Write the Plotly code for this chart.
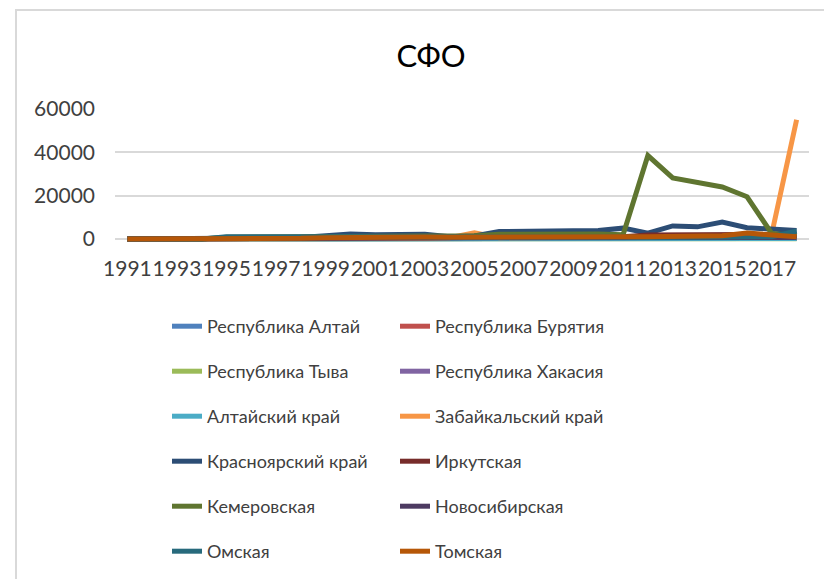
import plotly.graph_objects as go

years = [str(y) for y in range(1991, 2019)]
tick_years = [str(y) for y in range(1991, 2019, 2)]

names = ["Республика Алтай", "Республика Бурятия", "Республика Тыва", "Республика Хакасия",
         "Алтайский край", "Забайкальский край", "Красноярский край", "Иркутская",
         "Кемеровская", "Новосибирская", "Омская", "Томская"]
colors = ["#4F81BD", "#C0504D", "#9BBB59", "#8064A2", "#4BACC6", "#F79646",
          "#2C4D75", "#772C2A", "#5F7530", "#4D3B62", "#276A7C", "#B65708"]

#                 1991 ...                                                                                         2018
altai_rep     = [0, 0, 0, 0, 50, 60, 60, 80, 100, 120, 120, 130, 150, 150, 160, 180, 200, 200, 220, 220, 250, 250, 260, 280, 300, 300, 320, 300]
buryatia      = [0, 0, 0, 0, 100, 120, 150, 200, 250, 300, 300, 320, 350, 300, 350, 400, 400, 420, 450, 450, 500, 500, 520, 500, 550, 600, 500, 450]
tyva          = [0, 0, 0, 0, 20, 20, 30, 30, 40, 50, 50, 60, 60, 60, 70, 70, 80, 80, 90, 90, 100, 100, 100, 110, 120, 120, 110, 100]
khakassia     = [0, 0, 0, 0, 100, 120, 150, 180, 200, 250, 250, 260, 280, 250, 300, 320, 350, 350, 380, 380, 400, 400, 420, 400, 450, 450, 400, 380]
altai_krai    = [0, 0, 0, 0, 150, 200, 220, 250, 300, 350, 350, 380, 400, 350, 400, 450, 450, 480, 500, 500, 500, 450, 400, 350, 300, 300, 250, 200]
zabaikalsky   = [0, 0, 0, 0, 100, 150, 200, 250, 300, 300, 300, 320, 350, 600, 2800, 600, 700, 800, 800, 850, 900, 900, 950, 1000, 1000, 1100, 2500, 55000]
krasnoyarsk   = [0, 0, 0, 0, 300, 400, 500, 700, 1500, 2300, 1900, 1800, 2200, 1000, 1400, 3400, 3700, 3800, 3800, 3900, 5000, 2700, 6000, 5600, 7800, 5200, 4600, 3900]
irkutsk       = [0, 0, 0, 0, 200, 250, 300, 350, 400, 500, 500, 550, 600, 600, 650, 700, 750, 800, 850, 900, 1000, 1800, 2000, 2000, 1900, 2100, 1800, 1600]
kemerovo      = [0, 0, 0, 0, 800, 900, 900, 1000, 1100, 1200, 1200, 1100, 1200, 1100, 1500, 2200, 2300, 2300, 2200, 2300, 2000, 38500, 28200, 26300, 24000, 19500, 2500, 1500]
novosibirsk   = [0, 0, 0, 0, 200, 250, 300, 300, 350, 400, 400, 450, 500, 450, 500, 550, 600, 600, 650, 650, 700, 700, 750, 750, 800, 800, 750, 700]
omsk          = [0, 0, 0, 0, 1000, 1000, 1000, 1000, 1100, 1300, 1300, 1200, 1200, 1000, 1000, 1100, 1100, 1100, 1100, 1100, 900, 700, 700, 600, 600, 700, 1000, 3700]
tomsk         = [0, 0, 0, 0, 0, 0, 0, 300, 600, 800, 800, 800, 900, 800, 900, 900, 900, 900, 1000, 1000, 1000, 1000, 1100, 1100, 1500, 2700, 1800, 1000]

series = [altai_rep, buryatia, tyva, khakassia, altai_krai, zabaikalsky,
          krasnoyarsk, irkutsk, kemerovo, novosibirsk, omsk, tomsk]

FONT = "Lato"
TXT = "#404040"

fig = go.Figure()
for i, (nm, col, vals) in enumerate(zip(names, colors, series)):
    fig.add_trace(go.Scatter(
        x=years, y=vals, name=nm, mode="lines",
        line=dict(color=col, width=5),
        legend="legend" if i % 2 == 0 else "legend2",
        legendgroup=f"g{i}",
    ))

OFF = 8  # page body margin
W, H = 832, 579
L, R, T, B = 115 - OFF, 809 - OFF, 109 - OFF, 242 - OFF

leg_common = dict(
    orientation="v", traceorder="grouped", tracegroupgap=18.6,
    font=dict(family=FONT, size=18, color=TXT),
    bgcolor="rgba(0,0,0,0)", borderwidth=0,
    xref="container", yref="container", xanchor="left", yanchor="top",
    itemclick=False, itemdoubleclick=False,
)

fig.update_layout(
    width=W, height=H,
    margin=dict(l=L, r=W - R, t=T, b=H - B, pad=0, autoexpand=False),
    paper_bgcolor="white", plot_bgcolor="white",
    font=dict(family=FONT, color=TXT),
    title=dict(text="СФО", x=423 / W, xanchor="center", xref="container",
               y=1 - 48 / H, yanchor="middle", yref="container",
               font=dict(family=FONT, size=31, color="#000000")),
    xaxis=dict(type="category", categoryorder="array", categoryarray=years,
               range=[-0.5, len(years) - 0.5],
               tickmode="array", tickvals=tick_years, ticktext=tick_years,
               tickangle=0, showgrid=False, showline=False, zeroline=False,
               ticks="", tickfont=dict(family=FONT, size=21, color=TXT),
               ticklabelstandoff=12),
    yaxis=dict(range=[-1400, 60000], tickmode="array",
               tickvals=[0, 20000, 40000, 60000], tickformat="d",
               showgrid=True, gridcolor="#D9D9D9", gridwidth=2,
               zeroline=True, zerolinecolor="#D9D9D9", zerolinewidth=2,
               showline=False, ticks="",
               tickfont=dict(family=FONT, size=21, color=TXT),
               ticklabelstandoff=19),
    legend=dict(x=159 / W, y=1 - 300 / H, **leg_common),
    legend2=dict(x=387 / W, y=1 - 300 / H, **leg_common),
    shapes=[dict(type="rect", xref="paper", yref="paper",
                 x0=(16 - OFF - L) / (R - L), x1=1.2, y0=-4,
                 y1=(B - (10 - OFF)) / (B - T),
                 line=dict(color="#D9D9D9", width=2), fillcolor="rgba(0,0,0,0)",
                 layer="below")],
)

fig.write_html("out.html")
